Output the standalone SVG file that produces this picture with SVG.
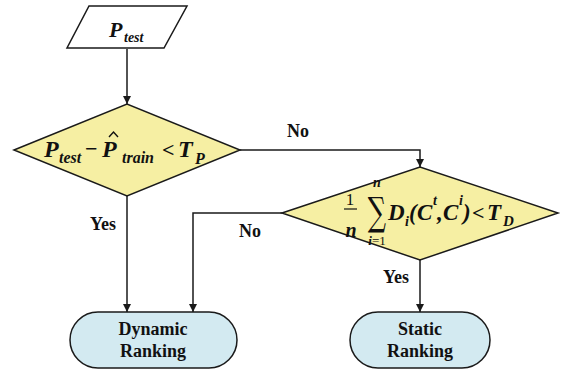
<svg xmlns="http://www.w3.org/2000/svg" width="562" height="371" viewBox="0 0 562 371">
<defs>
<style>
.shape{stroke:#1a1a1a;stroke-width:1.5}
.dec{fill:#f6efa3}
.term{fill:#d3eaf1}
.io{fill:#ffffff}
.lbl{font-family:"Liberation Serif","Times New Roman",serif;font-weight:bold;font-size:18px;fill:#111;text-anchor:middle}
.m{font-family:"Liberation Serif","Times New Roman",serif;font-weight:bold;font-style:italic;fill:#111}
.r{font-family:"Liberation Serif","Times New Roman",serif;fill:#111}
.wire{fill:none;stroke:#1a1a1a;stroke-width:1.5}
</style>
<marker id="arr" viewBox="0 0 10 10" refX="10" refY="5" markerWidth="8" markerHeight="8" markerUnits="userSpaceOnUse" orient="auto">
<path d="M0,0 L10,5 L0,10 z" fill="#1a1a1a"/>
</marker>
</defs>
<g id="connectors">
<line class="wire" x1="127" y1="49" x2="127" y2="104" marker-end="url(#arr)"/>
<polyline class="wire" points="240,150 420,150 420,167" marker-end="url(#arr)"/>
<line class="wire" x1="127" y1="196" x2="127" y2="312" marker-end="url(#arr)"/>
<polyline class="wire" points="282,213 193,213 193,312" marker-end="url(#arr)"/>
<line class="wire" x1="420" y1="260" x2="420" y2="312" marker-end="url(#arr)"/>
<text class="lbl" x="298" y="137">No</text>
<text class="lbl" x="103" y="230">Yes</text>
<text class="lbl" x="250" y="237">No</text>
<text class="lbl" x="396" y="283">Yes</text>
</g>
<g id="input">
<polygon class="shape io" points="89,6 187,6 164,48 67,48"/>
<text class="m" x="109" y="37" font-size="22">P</text>
<text class="m" x="124" y="42" font-size="14">test</text>
</g>
<g id="decision1">
<polygon class="shape dec" points="14,150 127,104 240,150 127,196"/>
<text class="m" x="44" y="157" font-size="24">P</text>
<text class="m" x="59" y="163" font-size="16">test</text>
<text class="r" x="85" y="156" font-size="22" font-weight="bold">−</text>
<text class="m" x="102" y="157" font-size="24">P</text>
<path d="M109,137 L113.5,132 L118,137" fill="none" stroke="#111" stroke-width="1.4"/>
<text class="m" x="122" y="163" font-size="16">train</text>
<text class="r" x="162" y="157" font-size="22" font-weight="bold">&lt;</text>
<text class="m" x="178" y="157" font-size="24">T</text>
<text class="m" x="195" y="164" font-size="16">P</text>
</g>
<g id="decision2">
<polygon class="shape dec" points="282,213 420,167 558,213 420,260"/>
<text class="r" x="350" y="205" font-size="17" text-anchor="middle">1</text>
<line x1="344" y1="209" x2="357" y2="209" stroke="#111" stroke-width="1.2"/>
<text class="m" x="351" y="237" font-size="20" text-anchor="middle">n</text>
<text transform="translate(377,225) scale(0.8,1.22)" x="0" y="0" font-size="32" text-anchor="middle" font-family="'DejaVu Serif',serif" fill="#111">∑</text>
<text class="m" x="377" y="187" font-size="14" text-anchor="middle">n</text>
<text class="m" x="377" y="245" font-size="13" text-anchor="middle">i<tspan class="r" font-weight="normal" font-style="normal">=1</tspan></text>
<text class="m" x="388" y="220" font-size="23">D</text>
<text class="m" x="405" y="226" font-size="14">i</text>
<text class="m" x="409" y="220" font-size="23">(</text>
<text class="m" x="417" y="220" font-size="23">C</text>
<text class="m" x="433" y="205" font-size="14">t</text>
<text class="m" x="437" y="220" font-size="23">,</text>
<text class="m" x="443" y="220" font-size="23">C</text>
<text class="m" x="459" y="205" font-size="14">i</text>
<text class="m" x="463" y="220" font-size="23">)</text>
<text class="r" x="472" y="220" font-size="22" font-weight="bold">&lt;</text>
<text class="m" x="487" y="220" font-size="23">T</text>
<text class="m" x="503" y="226" font-size="15">D</text>
</g>
<g id="dynamic">
<rect class="shape term" x="70" y="312" width="167" height="56" rx="28"/>
<text class="lbl" x="153" y="335">Dynamic</text>
<text class="lbl" x="153" y="357">Ranking</text>
</g>
<g id="static">
<rect class="shape term" x="350" y="312" width="140" height="56" rx="28"/>
<text class="lbl" x="420" y="335">Static</text>
<text class="lbl" x="420" y="357">Ranking</text>
</g>
</svg>
